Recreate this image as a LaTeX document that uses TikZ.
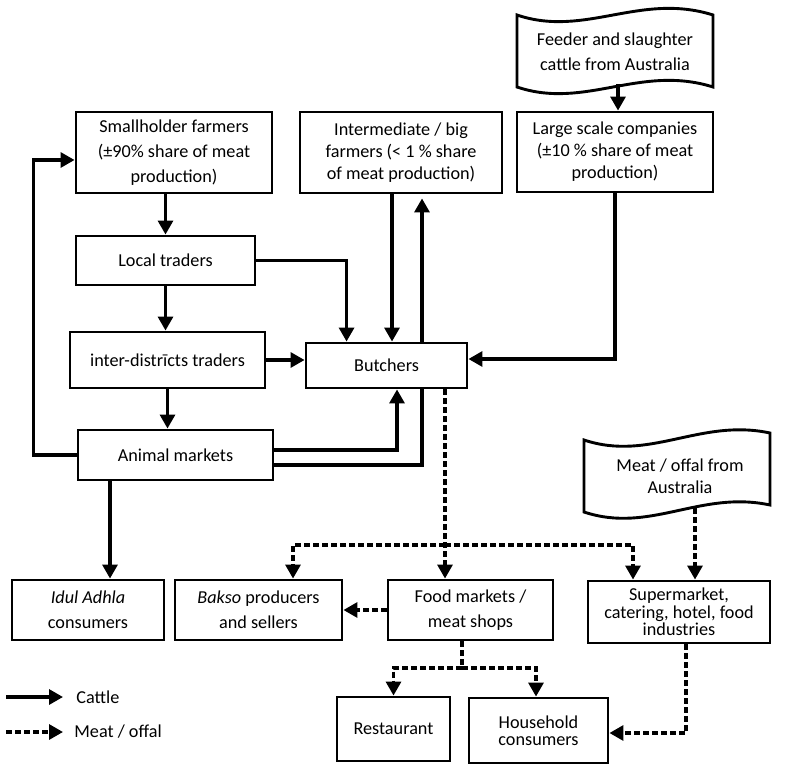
\documentclass[tikz,border=0pt]{standalone}
\usepackage{fontspec}
\setmainfont{Carlito}
\usetikzlibrary{arrows.meta,calc}
\begin{document}
\begin{tikzpicture}[x=0.5pt,y=-0.5pt,
  box/.style={draw,line width=1.45pt,align=center,inner sep=1pt,fill=white},
  doc/.style={draw,line width=1.45pt,fill=white},
  cattle/.style={line width=1.6pt,-{Triangle[length=7pt,width=7.5pt]}},
  cattleline/.style={line width=1.6pt},
  meat/.style={line width=1.6pt,dash pattern=on 3pt off 1.5pt,-{Triangle[length=7pt,width=7.5pt]}},
  meatline/.style={line width=1.6pt,dash pattern=on 3pt off 1.5pt},
  wide/.style={font=\fontsize{9.1}{12.5}\selectfont},
  mid/.style={font=\fontsize{9.1}{11}\selectfont},
  tight/.style={font=\fontsize{9.1}{8.7}\selectfont}]
\useasboundingbox (0,0) rectangle (790,769);

% document shapes
\draw[doc] (517,15) .. controls (585,38) and (640,-8) .. (713,15) -- (713,87)
  .. controls (640,64) and (585,110) .. (517,87) -- cycle;
\node[wide,align=center] (feeder) at (615,52) {Feeder and slaughter\\cattle from Australia};
\coordinate (feedbot) at (618,84);

\draw[doc] (584,440) .. controls (650,462) and (700,418) .. (770,433) -- (770,505)
  .. controls (700,490) and (650,534) .. (584,512) -- cycle;
\node[mid,align=center] (meatsrc) at (680,476) {Meat / offal from\\Australia};
\coordinate (meatbot) at (695,508);

% boxes
\node[box,wide,minimum width=98pt,minimum height=40.5pt] (small) at (174,152.5) {Smallholder farmers\\(±90\% share of meat\\production)};
\node[box,wide,minimum width=89.5pt,minimum height=24.5pt] (local) at (165.5,260.5) {Local traders};
\node[box,wide,minimum width=97.5pt,minimum height=28pt] (inter) at (167.5,360) {inter-distrīcts traders};
\node[box,wide,minimum width=97.5pt,minimum height=25pt] (animal) at (175.5,455) {Animal markets};
\node[box,mid,minimum width=101pt,minimum height=40.5pt] (interm) at (401,152.5) {Intermediate / big\\farmers (< 1 \% share\\of meat production)};
\node[box,mid,minimum width=98pt,minimum height=40pt] (large) at (615,152) {Large scale companies\\(±10 \% share of meat\\production)};
\node[box,wide,minimum width=80.5pt,minimum height=22.5pt] (butchers) at (386.5,365.5) {Butchers};
\node[box,wide,minimum width=76pt,minimum height=30pt] (idul) at (88,610) {\textit{Idul Adhla}\\consumers};
\node[box,wide,minimum width=83.5pt,minimum height=30pt] (bakso) at (258.5,610) {\textit{Bakso} producers\\and sellers};
\node[box,wide,minimum width=82.5pt,minimum height=30pt] (food) at (470.5,610) {Food markets /\\meat shops};
\node[box,tight,minimum width=91pt,minimum height=31pt] (super) at (679,612) {Supermarket,\\catering, hotel, food\\industries};
\node[box,wide,minimum width=56.5pt,minimum height=32pt] (rest) at (393.5,729) {Restaurant};
\node[box,tight,minimum width=69.5pt,minimum height=32.5pt] (house) at (538.5,730.5) {Household\\consumers};

% cattle flows
\draw[cattle] (feedbot) -- (feedbot |- large.north);
\draw[cattle] (small.south -| local.north) -- (local.north);
\draw[cattle] (local.south) -- (local.south |- inter.north);
\draw[cattle] (inter.south) -- (inter.south |- animal.north);
\draw[cattle] (local.east) -| ([xshift=21pt]butchers.north west);
\draw[cattle] ([xshift=-4.5pt]interm.south) -- ([xshift=-4.5pt]interm.south |- butchers.north);
\draw[cattle] ([xshift=17.75pt]butchers.north) -- ([xshift=17.75pt,yshift=-2pt]butchers.north |- interm.south);
\draw[cattle] (large.south) |- ([yshift=3.25pt]butchers.east);
\draw[cattle] (inter.east) -- (inter.east -| butchers.west);
\draw[cattle] ([yshift=2.5pt]animal.east) -| ([xshift=5.25pt]butchers.south);
\draw[cattleline] ([yshift=-5pt]animal.east) -| ([xshift=17.75pt]butchers.south);
\draw[cattle] (animal.west) -- ++(-43,0) |- ([yshift=-3.75pt]small.west);
\draw[cattle] ([xshift=-32.75pt]animal.south) -- ([xshift=-32.75pt]animal.south |- idul.north);

% meat flows
\coordinate (split) at (445,545);
\draw[meat] ([xshift=29.25pt]butchers.south) -- ([xshift=29.25pt]butchers.south |- food.north);
\draw[meat] (split) -| ([xshift=17.25pt]bakso.north);
\draw[meat] (split) -| ([xshift=-23pt]super.north);
\draw[meat] (food.west) -- (bakso.east);
\draw[meat] (meatbot) -- (meatbot |- super.north);
\coordinate (split2) at (462,668);
\draw[meatline] ([xshift=-4.25pt]food.south) -- (split2);
\draw[meat] (split2) -| (rest.north);
\draw[meat] (split2) -| ([xshift=-1.25pt]house.north);
\draw[meat] ([xshift=3.5pt]super.south) |- ([yshift=-1.25pt]house.east);

% legend
\coordinate (lc1) at (6,697);
\coordinate (lc2) at (63,697);
\coordinate (lm1) at (6,732);
\coordinate (lm2) at (63,732);
\draw[cattle] (lc1) -- (lc2);
\draw[meat] (lm1) -- (lm2);
\node[wide,anchor=west,inner sep=0pt] (lcat) at (76,697) {Cattle};
\node[wide,anchor=west,inner sep=0pt] (lmeat) at (74,732) {Meat / offal};
\end{tikzpicture}
\end{document}
